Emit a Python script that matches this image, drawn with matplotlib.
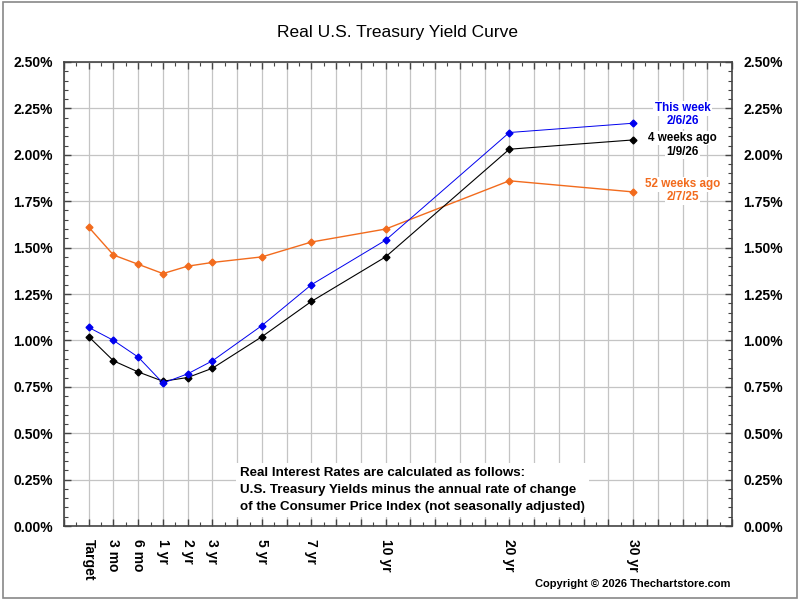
import matplotlib
matplotlib.use("Agg")
import matplotlib.pyplot as plt
from matplotlib.patches import Rectangle
from matplotlib.ticker import FuncFormatter, MultipleLocator

plt.rcParams["font.family"] = ["Liberation Sans", "DejaVu Sans"]

# maturity labels and their x slots on the chart
maturities = ["Target", "3 mo", "6 mo", "1 yr", "2 yr", "3 yr", "5 yr", "7 yr", "10 yr", "20 yr", "30 yr"]
slots = [1, 2, 3, 4, 5, 6, 8, 10, 13, 18, 23]

this_week = [1.07, 1.00, 0.91, 0.77, 0.82, 0.89, 1.08, 1.30, 1.54, 2.12, 2.17]
four_weeks = [1.02, 0.89, 0.83, 0.78, 0.80, 0.85, 1.02, 1.21, 1.45, 2.03, 2.08]
year_ago = [1.61, 1.46, 1.41, 1.36, 1.40, 1.42, 1.45, 1.53, 1.60, 1.86, 1.80]

BLUE = "#0000ee"
BLACK = "#000000"
ORANGE = "#f26b1d"

fig = plt.figure(figsize=(8, 6), dpi=100)
fig.patches.append(Rectangle((0.004, 0.004), 0.992, 0.992, transform=fig.transFigure,
                             fill=False, edgecolor="#888888", lw=1.2))
ax = fig.add_axes([0.08, 0.1233, 0.835, 0.7734])

ax.plot(slots, year_ago, "D-", color=ORANGE, lw=1, ms=3.5, zorder=3)
ax.plot(slots, four_weeks, "D-", color=BLACK, lw=0.8, ms=3.5, zorder=4)
ax.plot(slots, this_week, "D-", color=BLUE, lw=0.7, ms=3.5, zorder=5)

ax.set_xlim(0, 27)
ax.set_ylim(0, 2.5)
ax.xaxis.set_major_locator(MultipleLocator(1))
ax.xaxis.set_minor_locator(MultipleLocator(0.5))
ax.yaxis.set_major_locator(MultipleLocator(0.25))
ax.yaxis.set_minor_locator(MultipleLocator(0.05))
ax.grid(True, which="major", color="#c4c4c4", lw=0.9, zorder=0)

ax.tick_params(which="both", direction="in", top=True, right=True,
               labelright=True, labelbottom=False)
ax.tick_params(which="major", length=5, width=1, color="#444444")
ax.tick_params(which="minor", length=3, width=0.8, color="#444444")
ax.tick_params(axis="y", which="major", labelsize=10, pad=8)
ax.yaxis.set_major_formatter(FuncFormatter(lambda v, p: f"{v:.2f}%"))
for t in ax.yaxis.get_major_ticks():
    t.label1.set_fontweight("bold")
    t.label2.set_fontweight("bold")
for sp in ax.spines.values():
    sp.set_color("#444444")
    sp.set_linewidth(1.2)

# maturity labels, rotated, under the axis
for s, m in zip(slots, maturities):
    ax.annotate(m, xy=(s, 0), xycoords=("data", "axes fraction"), xytext=(0, -9),
                textcoords="offset points", rotation=270, ha="center", va="top",
                fontsize=10, fontweight="bold")

ax.set_title("Real U.S. Treasury Yield Curve", fontsize=12.5, pad=18)

# series labels on the right
lab_x = 25.0
for y1, y2, txt1, txt2, c in [(2.25, 2.18, "This week", "2/6/26", BLUE),
                              (2.09, 2.015, "4 weeks ago", "1/9/26", BLACK),
                              (1.84, 1.77, "52 weeks ago", "2/7/25", ORANGE)]:
    ax.text(lab_x, y1, txt1, color=c, fontsize=8.4, fontweight="bold", ha="center", va="center",
            bbox=dict(facecolor="white", edgecolor="none", pad=1), zorder=6)
    ax.text(lab_x, y2, txt2, color=c, fontsize=8.4, fontweight="bold", ha="center", va="center",
            bbox=dict(facecolor="white", edgecolor="none", pad=1), zorder=6)

ax.text(7.1, 0.195, "Real Interest Rates are calculated as follows:\n"
        "U.S. Treasury Yields minus the annual rate of change\n"
        "of the Consumer Price Index (not seasonally adjusted)",
        fontsize=9.6, fontweight="bold", ha="left", va="center", linespacing=1.55,
        bbox=dict(facecolor="white", edgecolor="none", pad=3), zorder=6)

fig.text(0.913, 0.027, "Copyright \u00a9 2026 Thechartstore.com", fontsize=8,
         fontweight="bold", ha="right", va="center")

fig.savefig("out.png", dpi=100)
